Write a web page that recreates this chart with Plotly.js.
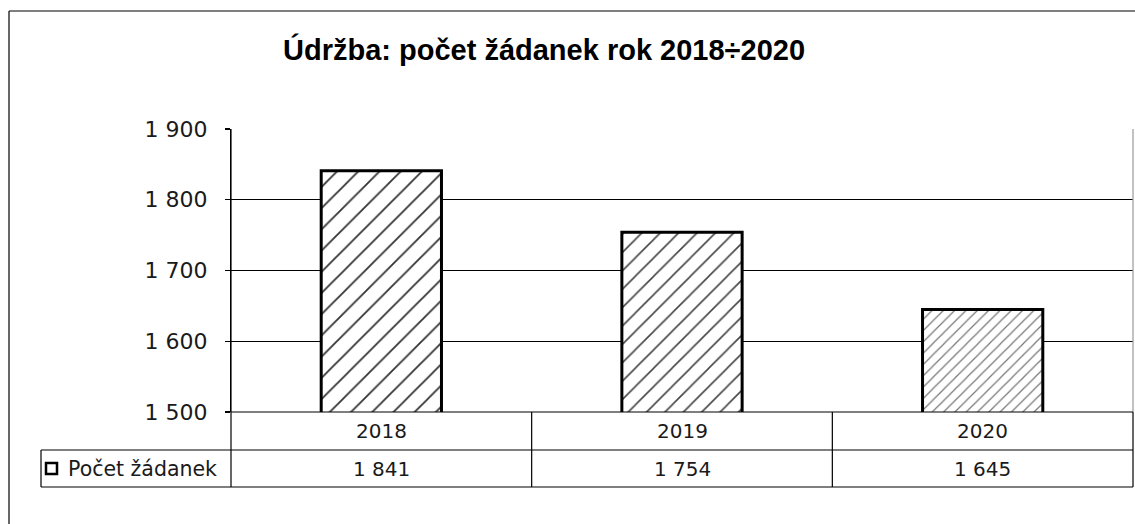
<!DOCTYPE html>
<html>
<head>
<meta charset="utf-8">
<script src="https://cdn.plot.ly/plotly-3.0.1.min.js"></script>
<style>
  html, body { margin: 0; padding: 0; background: #fff; overflow: hidden; }
  #chart { width: 1135px; height: 524px; }
</style>
</head>
<body>
<div id="chart"></div>
<script>
const titleText = "Údržba: počet žádanek rok 2018÷2020";
const categories = ["2018", "2019", "2020"];
const seriesName = "Počet žádanek";
const values = [1841, 1754, 1645];
const yTickValues = [1500, 1600, 1700, 1800, 1900];

function fmt(v) { return String(v).replace(/\B(?=(\d{3})+(?!\d))/g, " "); }

const FONT = "DejaVu Sans, Arial, sans-serif";
const TXT = "#1a1a1a";

// plot area geometry (pixels)
const L = 231, R = 1133, T = 129, B = 412, W = 1135, H = 524;
const pw = R - L, ph = B - T;
const px = x => (x - L) / pw;          // pixel -> paper x
const py = y => (B - y) / ph;          // pixel -> paper y

const row1Bottom = py(450), row2Bottom = py(487), tableLeft = px(41);
const LW = 1.2;

const shapes = [];
// outer frame (only top and left edges fall inside the picture)
shapes.push({type: "line", xref: "paper", yref: "paper", x0: px(9), x1: px(1135), y0: py(11), y1: py(11), line: {color: "#000", width: LW}});
shapes.push({type: "line", xref: "paper", yref: "paper", x0: px(9), x1: px(9), y0: py(11), y1: py(524), line: {color: "#000", width: LW}});
// plot area right border (grey)
shapes.push({type: "line", xref: "paper", yref: "paper", x0: 1, x1: 1, y0: 0, y1: 1, line: {color: "#999", width: LW}});
// table horizontal lines
shapes.push({type: "line", xref: "paper", yref: "paper", x0: 0, x1: 1, y0: 0, y1: 0, line: {color: "#000", width: LW}});
shapes.push({type: "line", xref: "paper", yref: "paper", x0: tableLeft, x1: 1, y0: row1Bottom, y1: row1Bottom, line: {color: "#000", width: LW}});
shapes.push({type: "line", xref: "paper", yref: "paper", x0: tableLeft, x1: 1, y0: row2Bottom, y1: row2Bottom, line: {color: "#000", width: LW}});
// table vertical lines
shapes.push({type: "line", xref: "paper", yref: "paper", x0: tableLeft, x1: tableLeft, y0: row1Bottom, y1: row2Bottom, line: {color: "#000", width: LW}});
shapes.push({type: "line", xref: "paper", yref: "paper", x0: 0, x1: 0, y0: row2Bottom, y1: 1, line: {color: "#000", width: LW}});
shapes.push({type: "line", xref: "paper", yref: "paper", x0: 1, x1: 1, y0: row2Bottom, y1: 0, line: {color: "#000", width: LW}});
for (let i = 0; i < categories.length - 1; i++) {
  shapes.push({type: "line", xref: "x", yref: "paper", x0: i + 0.5, x1: i + 0.5, y0: row2Bottom, y1: 0, line: {color: "#000", width: LW}});
}
// legend key in table
shapes.push({type: "rect", xref: "paper", yref: "paper", x0: px(46), x1: px(57), y0: py(474), y1: py(463),
  line: {color: "#000", width: 2.5}, fillcolor: "#fff"});

const annotations = [];
categories.forEach((c, i) => {
  annotations.push({xref: "x", yref: "paper", x: i, y: (0 + row1Bottom) / 2, text: c, showarrow: false,
    xanchor: "center", yanchor: "middle", font: {family: FONT, size: 20, color: TXT}});
  annotations.push({xref: "x", yref: "paper", x: i, y: (row1Bottom + row2Bottom) / 2, text: fmt(values[i]), showarrow: false,
    xanchor: "center", yanchor: "middle", font: {family: FONT, size: 20, color: TXT}});
});
annotations.push({xref: "paper", yref: "paper", x: px(66), y: (row1Bottom + row2Bottom) / 2, text: seriesName, showarrow: false,
  xanchor: "left", yanchor: "middle", font: {family: FONT, size: 20.5, color: TXT}});

const trace = {
  type: "bar",
  x: categories,
  y: values,
  name: seriesName,
  width: 0.4,
  marker: {
    color: "#fff",
    line: {color: "#000", width: 3},
    pattern: {
      shape: "/",
      fgcolor: ["#333", "#444", "#777"],
      bgcolor: "#fff",
      size: [15, 13, 8],
      solidity: [0.12, 0.12, 0.15]
    }
  },
  hoverinfo: "skip"
};

const layout = {
  width: W, height: H,
  margin: {l: L, r: W - R, t: T, b: H - B, pad: 0},
  paper_bgcolor: "#fff", plot_bgcolor: "#fff",
  showlegend: false,
  separators: ", ",
  title: {text: titleText, xref: "paper", x: px(544), xanchor: "center", yref: "container", y: 1 - 50 / H, yanchor: "middle",
    font: {family: "Liberation Sans, Arial, sans-serif", size: 29, color: "#000", weight: "bold"}},
  xaxis: {type: "category", range: [-0.5, 2.5], showticklabels: false, showgrid: false, zeroline: false, showline: false, ticks: "", fixedrange: true},
  yaxis: {range: [1500, 1900], tickvals: yTickValues, tickformat: ",d", ticks: "outside", ticklen: 5, tickcolor: "#000", tickwidth: LW,
    showline: true, linecolor: "#000", linewidth: LW, showgrid: true, gridcolor: "#000", gridwidth: LW, zeroline: false,
    ticklabelstandoff: 13, tickfont: {family: FONT, size: 22, color: TXT}, fixedrange: true},
  shapes: shapes,
  annotations: annotations
};

Plotly.newPlot("chart", [trace], layout, {staticPlot: true, displayModeBar: false});
</script>
</body>
</html>
